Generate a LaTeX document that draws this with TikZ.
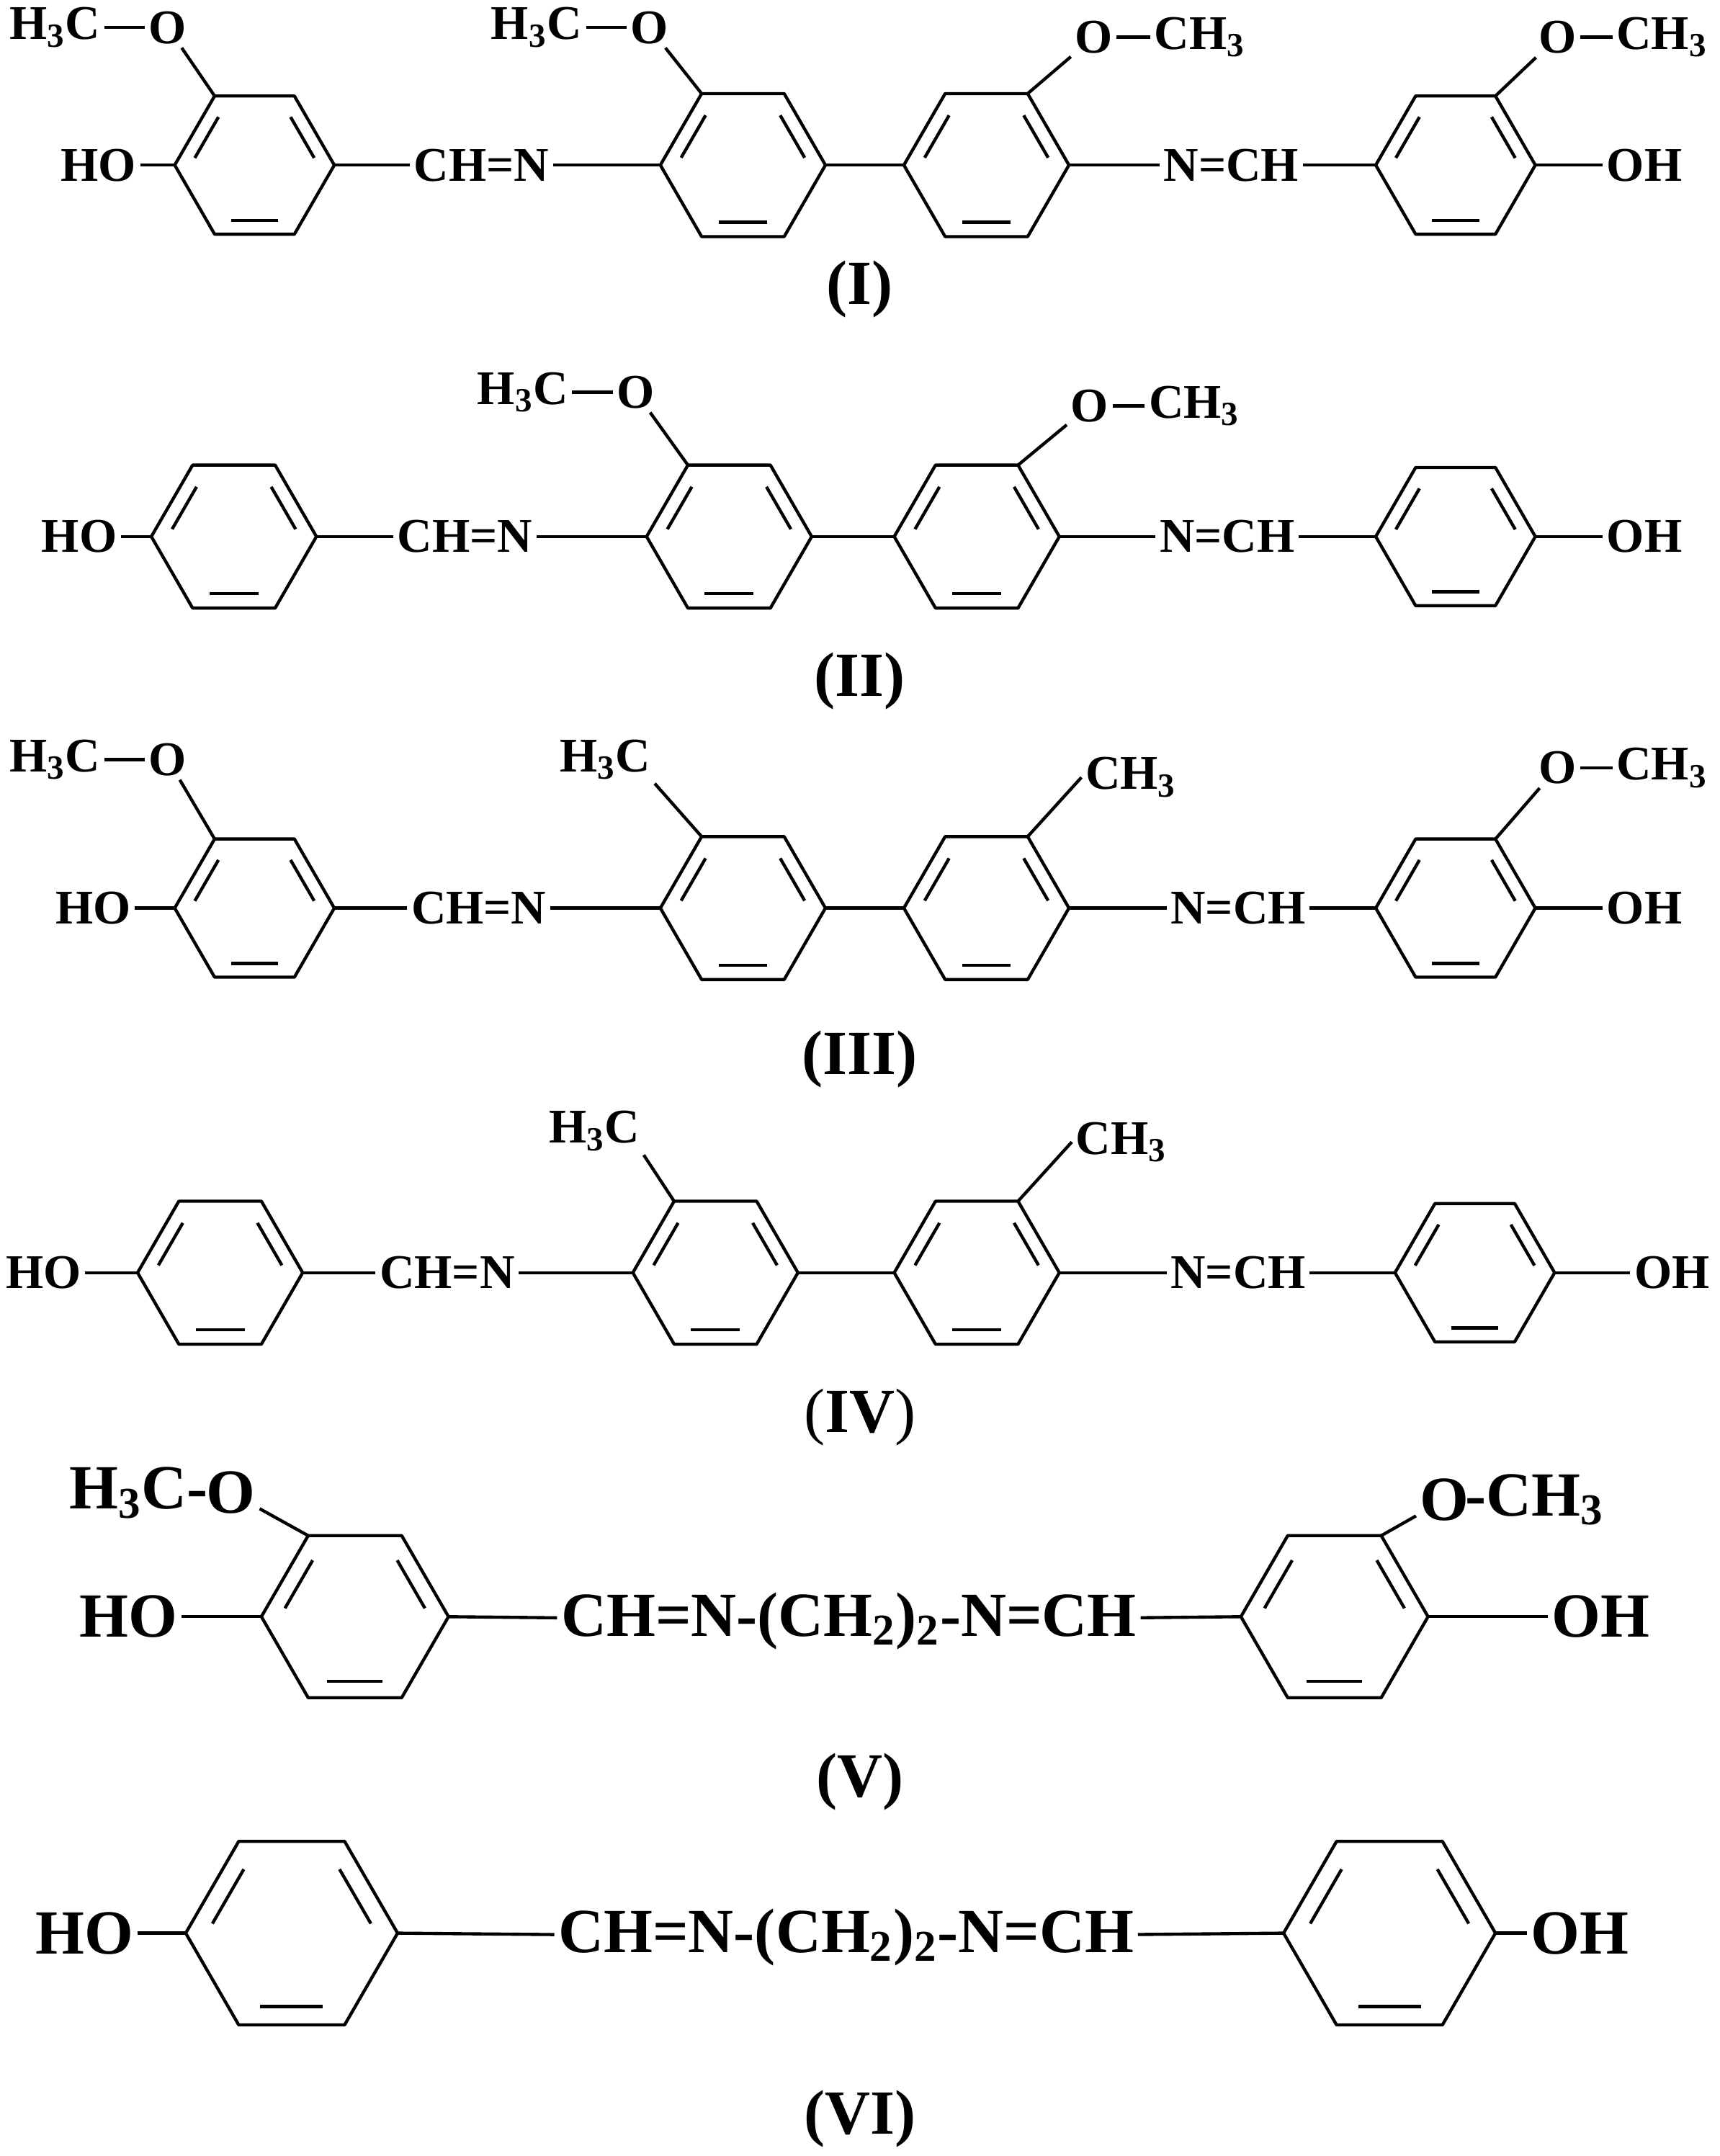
\documentclass[tikz,border=0pt]{standalone}
\usepackage{fontspec}
\setmainfont{Liberation Serif}
\usetikzlibrary{calc}
\newcommand\ring[4]{%
 \coordinate (#4) at (#1,#2);
 \foreach \k in {0,...,5}{%
   \coordinate (#4-\k) at ({#1+#3*cos(60*\k)},{#2-#3*sin(60*\k)});
   \coordinate (#4-i\k) at ({#1+0.8*#3*cos(60*\k)},{#2-0.8*#3*sin(60*\k)});}
 \draw[bond] (#4-0)--(#4-1)--(#4-2)--(#4-3)--(#4-4)--(#4-5)--cycle;
 \foreach \a/\b in {0/1,2/3,4/5}{\draw[bond] ($(#4-i\a)!0.13!(#4-i\b)$)--($(#4-i\a)!0.87!(#4-i\b)$);}
}
\begin{document}
\begin{tikzpicture}[x=0.02cm,y=-0.02cm,
 bond/.style={line width=1.3pt,line join=round},
 t/.style={font=\fontsize{20}{22}\selectfont\bfseries,inner sep=1.5pt},
 tb/.style={font=\fontsize{26}{28}\selectfont\bfseries,inner sep=1.5pt},
 captext/.style={font=\fontsize{26}{28}\selectfont\bfseries}]
\useasboundingbox (0,0) rectangle (1250,1567);
% ---------- I ----------
\ring{185}{120}{58}{a1}\ring{540}{120}{60}{a2}\ring{717}{120}{60}{a3}\ring{1058}{120}{58}{a4}
\draw[bond] (a2-0)--(a3-3);
\node[t,anchor=east] (aHO) at (102,120) {HO}; \draw[bond] (aHO)--(a1-3);
\node[t] (aO1) at (122,20) {O}; \node[t] (aM1) at (40,20) {H\textsubscript{3}C};
\draw[bond] (aM1)--(aO1); \draw[bond] (aO1)--(a1-2);
\node[t] (aCN) at (350,120) {CH=N}; \draw[bond] (a1-0)--(aCN); \draw[bond] (aCN)--(a2-3);
\node[t] (aO2) at (472,20) {O}; \node[t] (aM2) at (390,20) {H\textsubscript{3}C};
\draw[bond] (aM2)--(aO2); \draw[bond] (aO2)--(a2-2);
\node[t] (aO3) at (795,27) {O}; \node[t] (aM3) at (872,27) {CH\textsubscript{3}};
\draw[bond] (aO3)--(aM3); \draw[bond] (aO3)--(a3-1);
\node[t] (aNC) at (895,120) {N=CH}; \draw[bond] (a3-0)--(aNC); \draw[bond] (aNC)--(a4-3);
\node[t] (aO4) at (1132,27) {O}; \node[t] (aM4) at (1208,27) {CH\textsubscript{3}};
\draw[bond] (aO4)--(aM4); \draw[bond] (aO4)--(a4-1);
\node[t,anchor=west] (aOH) at (1165,120) {OH}; \draw[bond] (a4-0)--(aOH);
\node[captext] (capI) at (625,210) {(I)};
% ---------- II ----------
\ring{170}{390}{60}{b1}\ring{530}{390}{60}{b2}\ring{710}{390}{60}{b3}\ring{1058}{390}{58}{b4}
\draw[bond] (b2-0)--(b3-3);
\node[t,anchor=east] (bHO) at (88,390) {HO}; \draw[bond] (bHO)--(b1-3);
\node[t] (bCN) at (338,390) {CH=N}; \draw[bond] (b1-0)--(bCN); \draw[bond] (bCN)--(b2-3);
\node[t] (bO2) at (462,285) {O}; \node[t] (bM2) at (380,285) {H\textsubscript{3}C};
\draw[bond] (bM2)--(bO2); \draw[bond] (bO2)--(b2-2);
\node[t] (bO3) at (792,295) {O}; \node[t] (bM3) at (868,295) {CH\textsubscript{3}};
\draw[bond] (bO3)--(bM3); \draw[bond] (bO3)--(b3-1);
\node[t] (bNC) at (892,390) {N=CH}; \draw[bond] (b3-0)--(bNC); \draw[bond] (bNC)--(b4-3);
\node[t,anchor=west] (bOH) at (1165,390) {OH}; \draw[bond] (b4-0)--(bOH);
\node[captext] (capII) at (625,495) {(II)};
% ---------- III ----------
\ring{185}{660}{58}{c1}\ring{540}{660}{60}{c2}\ring{717}{660}{60}{c3}\ring{1058}{660}{58}{c4}
\draw[bond] (c2-0)--(c3-3);
\node[t,anchor=east] (cHO) at (98,660) {HO}; \draw[bond] (cHO)--(c1-3);
\node[t] (cO1) at (122,552) {O}; \node[t] (cM1) at (40,552) {H\textsubscript{3}C};
\draw[bond] (cM1)--(cO1); \draw[bond] (cO1)--(c1-2);
\node[t] (cCN) at (348,660) {CH=N}; \draw[bond] (c1-0)--(cCN); \draw[bond] (cCN)--(c2-3);
\node[t] (cM2) at (440,552) {H\textsubscript{3}C}; \draw[bond] (cM2.south east)--(c2-2);
\node[t] (cM3) at (822,565) {CH\textsubscript{3}}; \draw[bond] (cM3.west)--(c3-1);
\node[t] (cNC) at (900,660) {N=CH}; \draw[bond] (c3-0)--(cNC); \draw[bond] (cNC)--(c4-3);
\node[t] (cO4) at (1132,558) {O}; \node[t] (cM4) at (1208,558) {CH\textsubscript{3}};
\draw[bond] (cO4)--(cM4); \draw[bond] (cO4)--(c4-1);
\node[t,anchor=west] (cOH) at (1165,660) {OH}; \draw[bond] (c4-0)--(cOH);
\node[captext] (capIII) at (625,770) {(III)};
% ---------- IV ----------
\ring{160}{925}{60}{d1}\ring{520}{925}{60}{d2}\ring{710}{925}{60}{d3}\ring{1072}{925}{58}{d4}
\draw[bond] (d2-0)--(d3-3);
\node[t,anchor=east] (dHO) at (62,925) {HO}; \draw[bond] (dHO)--(d1-3);
\node[t] (dCN) at (325,925) {CH=N}; \draw[bond] (d1-0)--(dCN); \draw[bond] (dCN)--(d2-3);
\node[t] (dM2) at (432,822) {H\textsubscript{3}C}; \draw[bond] (dM2.south east)--(d2-2);
\node[t] (dM3) at (815,830) {CH\textsubscript{3}}; \draw[bond] (dM3.west)--(d3-1);
\node[t] (dNC) at (900,925) {N=CH}; \draw[bond] (d3-0)--(dNC); \draw[bond] (dNC)--(d4-3);
\node[t,anchor=west] (dOH) at (1185,925) {OH}; \draw[bond] (d4-0)--(dOH);
\node[font=\fontsize{26}{28}\selectfont] (capIV) at (625,1030) {(\textbf{IV})};
% ---------- V ----------
\ring{258}{1175}{68}{e1}\ring{970}{1175}{68}{e4}
\node[tb,anchor=east] (eHO) at (132,1175) {HO}; \draw[bond] (eHO)--(e1-3);
\node[tb] (eO1) at (168,1085) {O}; \node[tb,anchor=east] (eM1) at (154,1085) {H\textsubscript{3}C-};
\draw[bond] (eO1)--(e1-2);
\node[tb] (eCh) at (617,1178) {CH=N-(CH\textsubscript{2})\textsubscript{2}-N=CH};
\draw[bond] (e1-0)--(eCh); \draw[bond] (eCh)--(e4-3);
\node[tb] (eO4) at (1050,1090) {O}; \node[tb,anchor=west] (eM4) at (1062,1090) {-CH\textsubscript{3}};
\draw[bond] (eO4)--(e4-1);
\node[tb,anchor=west] (eOH) at (1125,1175) {OH}; \draw[bond] (e4-0)--(eOH);
\node[captext] (capV) at (625,1295) {(V)};
% ---------- VI ----------
\ring{212}{1405}{77}{f1}\ring{1010}{1405}{77}{f4}
\node[tb,anchor=east] (fHO) at (100,1405) {HO}; \draw[bond] (fHO)--(f1-3);
\node[tb] (fCh) at (615,1408) {CH=N-(CH\textsubscript{2})\textsubscript{2}-N=CH};
\draw[bond] (f1-0)--(fCh); \draw[bond] (fCh)--(f4-3);
\node[tb,anchor=west] (fOH) at (1110,1405) {OH}; \draw[bond] (f4-0)--(fOH);
\node[captext] (capVI) at (625,1540) {(VI)};
\end{tikzpicture}
\end{document}
